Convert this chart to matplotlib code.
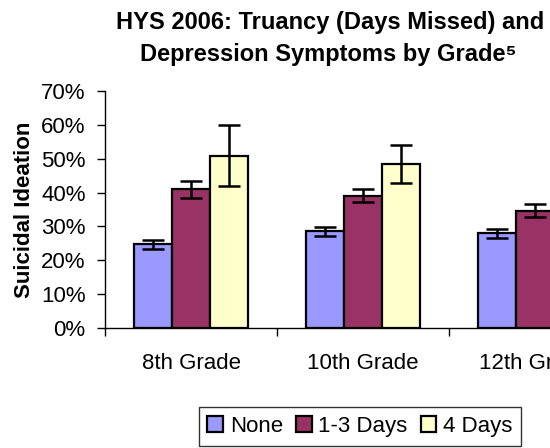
import numpy as np
import matplotlib
matplotlib.use("Agg")
import matplotlib.pyplot as plt
from matplotlib.ticker import PercentFormatter

plt.rcParams['font.family'] = ['Liberation Sans', 'DejaVu Sans']

# data (percent)
grades = ["8th Grade", "10th Grade", "12th Grade"]
series = ["None", "1-3 Days", "4 Days"]
none_vals = [24.8, 28.6, 28.0]
mid_vals = [41.0, 39.1, 34.7]
high_vals = [50.9, 48.4, 40.0]   # 12th grade bar is off the picture, guessed
none_err = [1.3, 1.3, 1.3]
mid_err = [2.5, 1.9, 1.85]
high_err = [9.0, 5.6, 6.0]
colors = ["#9999FF", "#993366", "#FFFFCC"]
yticks = [0, 10, 20, 30, 40, 50, 60, 70]

fig = plt.figure(figsize=(5.5, 4.48), dpi=100)
# axes runs past the right edge, like the cropped original
ax = fig.add_axes([105/550, 1-328.3/448, 516/550, (328.3-90.7)/448])

x = np.arange(len(grades))
w = 0.22
vals = [none_vals, mid_vals, high_vals]
errs = [none_err, mid_err, high_err]
for i in range(3):
    ax.bar(x + (i-1)*w, vals[i], w, color=colors[i], edgecolor="black",
           linewidth=1.6, label=series[i],
           yerr=errs[i], capsize=8,
           error_kw=dict(ecolor="black", elinewidth=1.8, capthick=1.8))

ax.set_xlim(-0.5, 2.5)
ax.set_ylim(0, 70)
ax.set_yticks(yticks)
ax.yaxis.set_major_formatter(PercentFormatter(decimals=0))
ax.set_xticks(x)
ax.set_xticklabels(grades)
ax.set_xticks([-0.5, 0.5, 1.5, 2.5], minor=True)
ax.tick_params(axis="x", which="major", length=0, pad=18, labelsize=16)
ax.tick_params(axis="x", which="minor", length=6, width=1, direction="out")
ax.tick_params(axis="y", length=6, width=1, direction="out", pad=8, labelsize=16)
ax.spines["top"].set_visible(False)
ax.spines["right"].set_visible(False)
ax.spines["left"].set_linewidth(1)
ax.spines["bottom"].set_linewidth(1)

ax.set_ylabel("Suicidal Ideation", fontsize=16, fontweight="bold")
ax.yaxis.set_label_coords(-0.136, 0.5)

fig.text(330/550, 1-22/448, "HYS 2006: Truancy (Days Missed) and",
         ha="center", va="center", fontsize=17, fontweight="bold")
fig.text(328/550, 1-55/448, "Depression Symptoms by Grade\u2075",
         ha="center", va="center", fontsize=17, fontweight="bold")

leg = fig.legend(loc="center", bbox_to_anchor=(360/550, 1-426.5/448),
                 ncol=3, fontsize=16, frameon=True, fancybox=False,
                 handlelength=0.7, handleheight=0.7, handletextpad=0.3,
                 columnspacing=0.6, borderpad=0.4, borderaxespad=0)
leg.get_frame().set_edgecolor("black")
leg.get_frame().set_linewidth(1)

fig.savefig("out.png", dpi=100)
